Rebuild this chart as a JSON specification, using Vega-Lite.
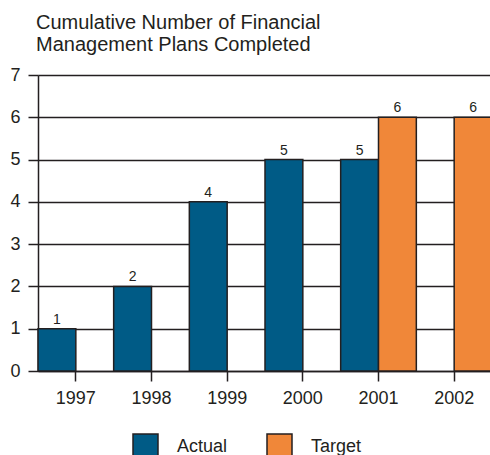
{
  "$schema": "https://vega.github.io/schema/vega-lite/v6.json",
  "width": 454,
  "height": 296,
  "autosize": {"type": "none"},
  "padding": {"left": 38, "top": 75, "right": 0, "bottom": 84},
  "background": "white",
  "title": {
    "text": ["Cumulative Number of Financial", "Management Plans Completed"],
    "anchor": "start",
    "frame": "group",
    "dx": -2,
    "offset": 11,
    "font": "Liberation Sans",
    "fontSize": 20,
    "fontWeight": "normal",
    "lineHeight": 22,
    "color": "#231f20"
  },
  "data": {
    "values": [
      {"year": "1997", "series": "Actual", "value": 1},
      {"year": "1998", "series": "Actual", "value": 2},
      {"year": "1999", "series": "Actual", "value": 4},
      {"year": "2000", "series": "Actual", "value": 5},
      {"year": "2001", "series": "Actual", "value": 5},
      {"year": "2001", "series": "Target", "value": 6},
      {"year": "2002", "series": "Target", "value": 6}
    ]
  },
  "encoding": {
    "x": {
      "field": "year",
      "type": "nominal",
      "scale": {"domain": ["1997", "1998", "1999", "2000", "2001", "2002"], "paddingInner": 0, "paddingOuter": 0},
      "axis": {
        "title": null,
        "labelAngle": 0,
        "labelFont": "Liberation Sans",
        "labelFontSize": 18,
        "labelColor": "#231f20",
        "labelPadding": 8,
        "tickSize": 10,
        "tickColor": "#231f20",
        "tickWidth": 1.5,
        "domainColor": "#231f20",
        "domainWidth": 1.5,
        "grid": false
      }
    },
    "xOffset": {
      "field": "series",
      "type": "nominal",
      "scale": {"domain": ["Actual", "Target"], "paddingInner": 0, "paddingOuter": 0}
    },
    "y": {
      "field": "value",
      "type": "quantitative",
      "scale": {"domain": [0, 7], "nice": false},
      "axis": {
        "title": null,
        "values": [0, 1, 2, 3, 4, 5, 6, 7],
        "labelFont": "Liberation Sans",
        "labelFontSize": 18,
        "labelColor": "#231f20",
        "labelPadding": 8,
        "tickSize": 10,
        "tickColor": "#231f20",
        "tickWidth": 1.5,
        "domainColor": "#231f20",
        "domainWidth": 1.5,
        "grid": true,
        "gridColor": "#231f20",
        "gridWidth": 1.5,
        "gridOpacity": 1
      }
    }
  },
  "layer": [
    {
      "mark": {"type": "bar", "stroke": "#231f20", "strokeWidth": 1.5},
      "encoding": {
        "color": {
          "field": "series",
          "type": "nominal",
          "scale": {"domain": ["Actual", "Target"], "range": ["#005b86", "#f08739"]},
          "legend": {
            "title": null,
            "orient": "none",
            "direction": "horizontal",
            "legendX": 94,
            "legendY": 358,
            "symbolType": "square",
            "symbolSize": 625,
            "symbolStrokeColor": "#231f20",
            "symbolStrokeWidth": 1.5,
            "symbolOpacity": 1,
            "labelFont": "Liberation Sans",
            "labelFontSize": 18,
            "labelColor": "#231f20",
            "labelOffset": 18,
            "columnPadding": 36
          }
        }
      }
    },
    {
      "mark": {"type": "text", "baseline": "alphabetic", "dy": -5, "font": "Liberation Sans", "fontSize": 14, "color": "#231f20"},
      "encoding": {"text": {"field": "value", "type": "quantitative"}}
    }
  ]
}
